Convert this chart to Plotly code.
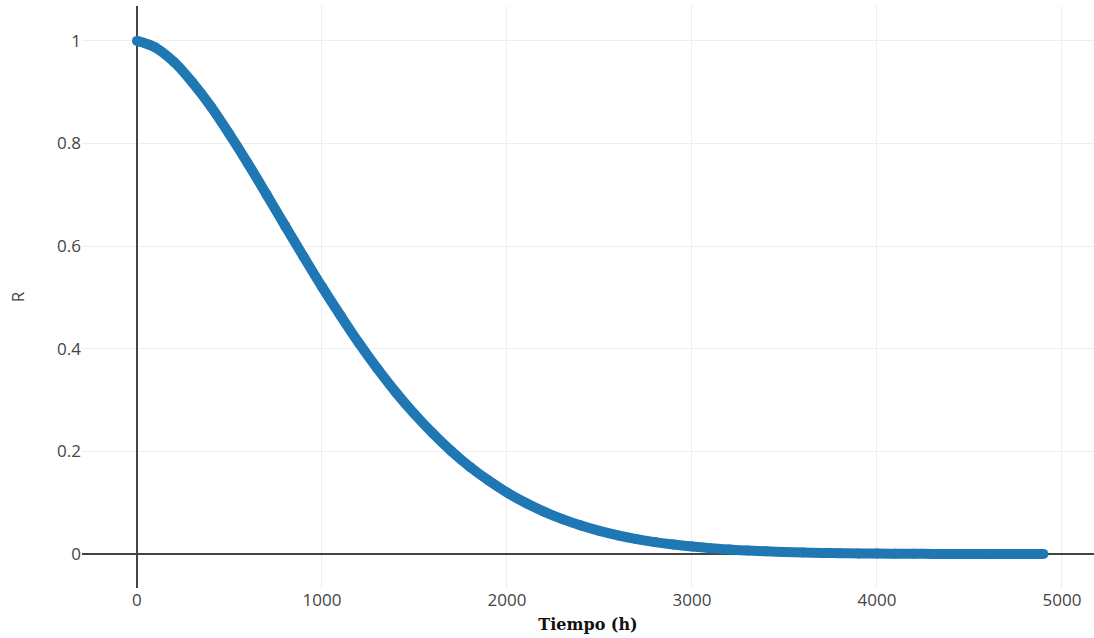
import plotly.graph_objects as go

# Reliability R(t) against operating time, sampled every 100 h
tiempo_h = list(range(0, 5000, 100))
confiabilidad = [
    1.000, 0.987, 0.959, 0.919, 0.872, 0.818, 0.761, 0.701, 0.640, 0.580,
    0.521, 0.465, 0.411, 0.361, 0.315, 0.273, 0.235, 0.2005, 0.170, 0.1435,
    0.120, 0.100, 0.0828, 0.0681, 0.0557, 0.0452, 0.0365, 0.0293, 0.0234, 0.0186,
    0.0147, 0.0115, 0.0090, 0.0070, 0.0054, 0.0041, 0.0032, 0.0024, 0.0018, 0.0014,
    0.0010, 0.0008, 0.0006, 0.0004, 0.0003, 0.0002, 0.00015, 0.0001, 0.0001, 0.0001,
]

azul = "#1f77b4"

fig = go.Figure(
    go.Scatter(
        x=tiempo_h,
        y=confiabilidad,
        mode="lines+markers",
        line=dict(color=azul, width=10, shape="spline", smoothing=1),
        marker=dict(color=azul, size=10),
        showlegend=False,
    )
)

fig.update_layout(
    width=1094,
    height=638,
    margin=dict(l=82, r=0, t=6, b=50),
    paper_bgcolor="white",
    plot_bgcolor="white",
    font=dict(family="Open Sans, sans-serif", size=17, color="#444"),
)

fig.update_xaxes(
    range=[-297, 5173],
    dtick=1000,
    showgrid=True,
    gridcolor="#eeeeee",
    gridwidth=1,
    zeroline=True,
    zerolinecolor="#444",
    zerolinewidth=1.5,
    showline=False,
    ticks="",
    title=dict(
        text="<b>Tiempo (h)</b>",
        font=dict(family="DejaVu Serif, serif", size=16, color="#111"),
        standoff=8,
    ),
)

fig.update_yaxes(
    range=[-0.066, 1.068],
    dtick=0.2,
    showgrid=True,
    gridcolor="#eeeeee",
    gridwidth=1,
    zeroline=True,
    zerolinecolor="#444",
    zerolinewidth=1.5,
    showline=False,
    ticks="",
    title=dict(text="R", font=dict(size=17, color="#444"), standoff=28),
)

fig.write_html("out.html")
